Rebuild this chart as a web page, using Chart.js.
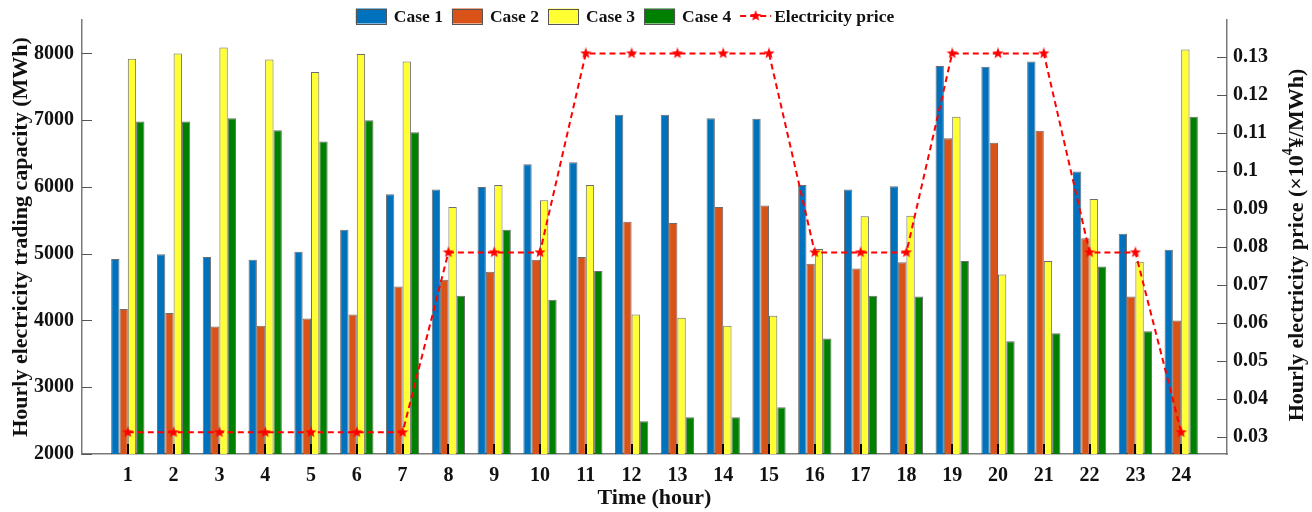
<!DOCTYPE html>
<html>
<head>
<meta charset="utf-8">
<script src="https://cdn.jsdelivr.net/npm/chart.js@4.4.1/dist/chart.umd.min.js"></script>
<style>
  html, body { margin: 0; padding: 0; background: #fff; }
  #wrap { width: 1312px; height: 512px; }
</style>
</head>
<body>
<div id="wrap"><canvas id="tradeChart" width="1312" height="512"></canvas></div>
<script>
// values
const hours = [1, 2, 3, 4, 5, 6, 7, 8, 9, 10, 11, 12, 13, 14, 15, 16, 17, 18, 19, 20, 21, 22, 23, 24];
const case1 = [4920, 4990, 4950, 4910, 5030, 5360, 5890, 5960, 6000, 6340, 6370, 7080, 7080, 7030, 7020, 6030, 5960, 6010, 7810, 7800, 7880, 6230, 5300, 5060];
const case2 = [4170, 4110, 3910, 3920, 4030, 4090, 4510, 4610, 4730, 4910, 4950, 5480, 5460, 5700, 5720, 4850, 4780, 4870, 6730, 6660, 6840, 5230, 4360, 4000];
const case3 = [7920, 8000, 8090, 7910, 7720, 7990, 7880, 5700, 6030, 5800, 6030, 4090, 4040, 3920, 4070, 5070, 5560, 5570, 7050, 4690, 4890, 5820, 4880, 8060];
const case4 = [6980, 6980, 7030, 6850, 6680, 7000, 6820, 4370, 5360, 4310, 4740, 2490, 2550, 2550, 2700, 3730, 4370, 4360, 4890, 3690, 3810, 4810, 3840, 7050];
const price = [0.0311, 0.0311, 0.0311, 0.0311, 0.0311, 0.0311, 0.0311, 0.0785, 0.0785, 0.0785, 0.1309, 0.1309, 0.1309, 0.1309, 0.1309, 0.0785, 0.0785, 0.0785, 0.1309, 0.1309, 0.1309, 0.0785, 0.0785, 0.0311];
const leftTicks = [2000, 3000, 4000, 5000, 6000, 7000, 8000];
const rightTicks = [0.03, 0.04, 0.05, 0.06, 0.07, 0.08, 0.09, 0.1, 0.11, 0.12, 0.13];

const serif = "'Liberation Serif', 'Times New Roman', serif";
const axisColor = '#7a7a7a';
const barEdge = 'rgba(30,30,30,0.65)';

Chart.defaults.font.family = serif;
Chart.defaults.color = '#111';

// filled red pentagram used as the price marker
function makeStar(size, color) {
  const c = document.createElement('canvas');
  c.width = size; c.height = size;
  const g = c.getContext('2d');
  const cx = size / 2, cy = size / 2, ro = size / 2, ri = ro * 0.42;
  g.beginPath();
  for (let i = 0; i < 10; i++) {
    const r = i % 2 === 0 ? ro : ri;
    const a = -Math.PI / 2 + i * Math.PI / 5;
    const px = cx + r * Math.cos(a), py = cy + r * Math.sin(a);
    if (i === 0) g.moveTo(px, py); else g.lineTo(px, py);
  }
  g.closePath();
  g.fillStyle = color;
  g.fill();
  return c;
}
const starImg = makeStar(12, '#ff0000');

const toPoints = (arr) => hours.map((h, i) => ({x: h, y: arr[i]}));

const barSet = (label, values, color) => ({
  type: 'bar',
  label: label,
  data: toPoints(values),
  yAxisID: 'y',
  backgroundColor: color,
  borderColor: barEdge,
  borderWidth: 1,
  barPercentage: 1.0,
  categoryPercentage: 0.727,
  order: 1,
});

// inward ticks, right-hand title and the top legend
const decor = {
  id: 'decor',
  afterDatasetsDraw(chart) {
    const {ctx, chartArea: a, scales} = chart;
    ctx.save();
    ctx.strokeStyle = '#555';
    ctx.lineWidth = 1;
    leftTicks.forEach((v) => {
      const py = Math.round(scales.y.getPixelForValue(v)) + 0.5;
      ctx.beginPath(); ctx.moveTo(a.left, py); ctx.lineTo(a.left + 10, py); ctx.stroke();
    });
    rightTicks.forEach((v) => {
      const py = Math.round(scales.y1.getPixelForValue(v)) + 0.5;
      ctx.beginPath(); ctx.moveTo(a.right - 10, py); ctx.lineTo(a.right, py); ctx.stroke();
    });
    ctx.strokeStyle = '#000';
    ctx.lineWidth = 2;
    hours.forEach((h) => {
      const px = Math.round(scales.x.getPixelForValue(h));
      ctx.beginPath(); ctx.moveTo(px, a.bottom); ctx.lineTo(px, a.bottom - 10); ctx.stroke();
    });
    ctx.restore();
  },
  afterDraw(chart) {
    const {ctx, chartArea: a} = chart;
    ctx.save();

    // right axis title, reading bottom to top, with superscript 4
    const main = 'bold 22px ' + serif;
    const sup = 'bold 14px ' + serif;
    const p1 = 'Hourly electricity price (\u00d710', p2 = '4', p3 = '\u00a5/MWh)';
    ctx.font = main;
    const w1 = ctx.measureText(p1).width, w3 = ctx.measureText(p3).width;
    ctx.font = sup;
    const w2 = ctx.measureText(p2).width;
    const total = w1 + w2 + w3;
    ctx.translate(1297, (a.top + a.bottom) / 2 + 8);
    ctx.rotate(-Math.PI / 2);
    ctx.fillStyle = '#111';
    ctx.textBaseline = 'middle';
    ctx.textAlign = 'left';
    let x0 = -total / 2;
    ctx.font = main; ctx.fillText(p1, x0, 0); x0 += w1;
    ctx.font = sup; ctx.fillText(p2, x0, -9); x0 += w2;
    ctx.font = main; ctx.fillText(p3, x0, 0);
    ctx.restore();

    // legend along the top
    ctx.save();
    const items = chart.data.datasets.map((d) => d);
    const lf = 'bold 17.5px ' + serif;
    ctx.font = lf;
    const boxW = 31, boxH = 15, gapBox = 7, gapItem = 9, cy = 16;
    let width = 0;
    items.forEach((d, i) => {
      width += boxW + (d.type === 'line' ? 3 : gapBox) + ctx.measureText(d.label).width;
      if (i < items.length - 1) width += gapItem;
    });
    let x = 625 - width / 2;
    ctx.textBaseline = 'middle';
    ctx.textAlign = 'left';
    items.forEach((d) => {
      if (d.type === 'line') {
        ctx.strokeStyle = '#ff0000';
        ctx.lineWidth = 2;
        ctx.setLineDash([6, 4]);
        ctx.beginPath(); ctx.moveTo(x, cy); ctx.lineTo(x + boxW, cy); ctx.stroke();
        ctx.setLineDash([]);
        ctx.drawImage(starImg, x + boxW / 2 - 6, cy - 6);
        x += boxW + 3;
      } else {
        ctx.fillStyle = d.backgroundColor;
        ctx.fillRect(x, cy - boxH / 2, boxW, boxH);
        ctx.strokeStyle = '#555';
        ctx.lineWidth = 1;
        ctx.strokeRect(Math.round(x) + 0.5, Math.round(cy - boxH / 2) + 0.5, boxW - 1, boxH);
        x += boxW + gapBox;
      }
      ctx.fillStyle = '#111';
      ctx.fillText(d.label, x, cy + 1);
      x += ctx.measureText(d.label).width + gapItem;
    });
    ctx.restore();
  },
};

const ctx = document.getElementById('tradeChart').getContext('2d');
new Chart(ctx, {
  data: {
    datasets: [
      barSet('Case 1', case1, '#0072bd'),
      barSet('Case 2', case2, '#d95319'),
      barSet('Case 3', case3, '#ffff33'),
      barSet('Case 4', case4, '#008000'),
      {
        type: 'line',
        label: 'Electricity price',
        data: toPoints(price),
        yAxisID: 'y1',
        borderColor: '#ff0000',
        backgroundColor: '#ff0000',
        borderWidth: 2,
        borderDash: [6, 4],
        pointStyle: starImg,
        pointRadius: 6,
        fill: false,
        tension: 0,
        order: 0,
      },
    ],
  },
  options: {
    responsive: false,
    animation: false,
    devicePixelRatio: 1,
    layout: {padding: {top: 15, left: 0, right: 0, bottom: 0}},
    plugins: {
      legend: {display: false},
      tooltip: {enabled: false},
    },
    scales: {
      x: {
        type: 'linear',
        offset: false,
        min: 0,
        max: 25,
        afterBuildTicks: (s) => { s.ticks = hours.map((v) => ({value: v})); },
        afterFit: (s) => { s.height = 58; },
        grid: {display: false, drawTicks: false},
        border: {display: true, color: axisColor, width: 1.5},
        ticks: {
          autoSkip: false,
          maxRotation: 0,
          padding: 10,
          color: '#111',
          font: {size: 20, weight: 'bold'},
          callback: (v) => String(v),
        },
        title: {
          display: true,
          text: 'Time (hour)',
          color: '#111',
          font: {size: 22, weight: 'bold'},
          padding: {top: 0, bottom: 0},
        },
      },
      y: {
        position: 'left',
        min: 2000,
        max: 8500,
        afterBuildTicks: (s) => { s.ticks = leftTicks.map((v) => ({value: v})); },
        afterFit: (s) => { s.width = 82; },
        grid: {display: false, drawTicks: false},
        border: {display: true, color: axisColor, width: 1.5},
        ticks: {
          padding: 8,
          color: '#111',
          font: {size: 20, weight: 'bold'},
          callback: (v) => String(v),
        },
        title: {
          display: true,
          text: 'Hourly electricity trading capacity (MWh)',
          color: '#111',
          font: {size: 22, weight: 'bold'},
          padding: {top: 8, bottom: 0},
        },
      },
      y1: {
        position: 'right',
        min: 0.0254,
        max: 0.1397,
        afterBuildTicks: (s) => { s.ticks = rightTicks.map((v) => ({value: v})); },
        afterFit: (s) => { s.width = 85; },
        grid: {display: false, drawTicks: false},
        border: {display: true, color: axisColor, width: 1.5},
        ticks: {
          padding: 6,
          color: '#111',
          font: {size: 20, weight: 'bold'},
          callback: (v) => String(v),
        },
      },
    },
  },
  plugins: [decor],
});
</script>
</body>
</html>
